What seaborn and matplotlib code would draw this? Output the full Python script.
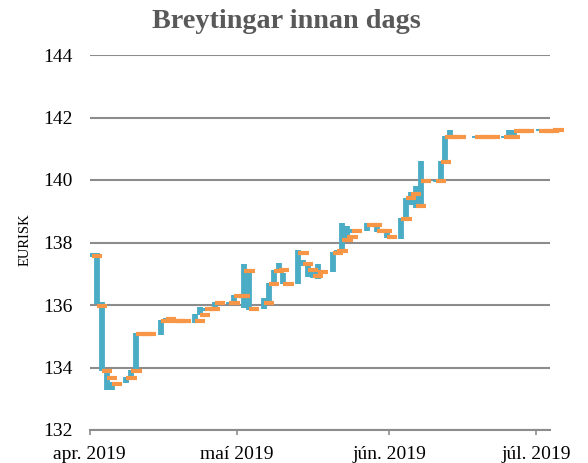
import matplotlib
matplotlib.use("Agg")
import matplotlib.pyplot as plt
import pandas as pd
import seaborn as sns

# ── Data (EUR/ISK intraday range and opening rate) ──
dates = [
    "2019-04-01", "2019-04-02", "2019-04-03", "2019-04-04", "2019-04-05",
    "2019-04-08", "2019-04-09", "2019-04-10", "2019-04-11", "2019-04-12",
    "2019-04-15", "2019-04-16", "2019-04-17", "2019-04-18", "2019-04-19",
    "2019-04-22", "2019-04-23", "2019-04-24", "2019-04-25", "2019-04-26",
    "2019-04-29", "2019-04-30", "2019-05-01", "2019-05-02", "2019-05-03",
    "2019-05-06", "2019-05-07", "2019-05-08", "2019-05-09", "2019-05-10",
    "2019-05-13", "2019-05-14", "2019-05-15", "2019-05-16", "2019-05-17",
    "2019-05-20", "2019-05-21", "2019-05-22", "2019-05-23", "2019-05-24",
    "2019-05-27", "2019-05-28", "2019-05-29", "2019-05-30", "2019-05-31",
    "2019-06-03", "2019-06-04", "2019-06-05", "2019-06-06", "2019-06-07",
    "2019-06-10", "2019-06-11", "2019-06-12", "2019-06-13", "2019-06-14",
    "2019-06-18", "2019-06-19", "2019-06-20", "2019-06-21", "2019-06-24",
    "2019-06-25", "2019-06-26", "2019-06-27", "2019-06-28", "2019-07-01",
    "2019-07-02", "2019-07-03", "2019-07-04",
]
lows = [
    137.55, 136.03, 133.90, 133.28, 133.28,
    133.50, 133.67, 133.89, 135.03, 135.03,
    135.04, 135.45, 135.45, 135.45, 135.45,
    135.42, 135.68, 135.82, 135.83, 135.89,
    136.02, 136.11, 136.26, 135.89, 135.84,
    135.86, 136.05, 136.69, 137.01, 136.66,
    136.66, 137.25, 136.90, 136.85, 136.83,
    137.07, 137.65, 137.71, 138.08, 138.30,
    138.38, 138.50, 138.35, 138.33, 138.13,
    138.10, 138.77, 139.20, 139.10, 139.15,
    139.93, 139.95, 140.57, 141.40, 141.35,
    141.35, 141.35, 141.35, 141.35, 141.35,
    141.44, 141.44, 141.54, 141.54, 141.56,
    141.54, 141.54, 141.58,
]
highs = [
    137.66, 137.66, 136.10, 133.87, 133.55,
    133.71, 133.92, 135.11, 135.10, 135.10,
    135.51, 135.58, 135.50, 135.50, 135.50,
    135.71, 135.95, 135.92, 135.90, 136.11,
    136.10, 136.32, 136.32, 137.31, 137.07,
    136.21, 136.69, 137.12, 137.35, 137.01,
    137.76, 137.44, 137.33, 137.20, 137.31,
    137.71, 137.76, 138.61, 138.53, 138.42,
    138.64, 138.60, 138.51, 138.40, 138.35,
    138.80, 139.41, 139.61, 139.81, 140.60,
    140.00, 140.60, 141.42, 141.60, 141.40,
    141.40, 141.40, 141.40, 141.40, 141.40,
    141.60, 141.60, 141.60, 141.60, 141.62,
    141.60, 141.60, 141.62,
]
opens = [
    137.56, 135.97, 133.88, 133.65, 133.46,
    133.65, 133.88, 135.06, 135.06, 135.06,
    135.48, 135.55, 135.48, 135.48, 135.48,
    135.48, 135.67, 135.86, 135.86, 136.05,
    136.05, 136.29, 136.29, 137.09, 135.86,
    136.05, 136.66, 137.09, 137.12, 136.66,
    137.65, 137.30, 137.12, 136.93, 137.07,
    137.65, 137.73, 138.08, 138.17, 138.36,
    138.56, 138.56, 138.36, 138.36, 138.17,
    138.74, 139.41, 139.54, 139.16, 139.96,
    139.96, 140.57, 141.37, 141.37, 141.37,
    141.37, 141.37, 141.37, 141.37, 141.37,
    141.37, 141.56, 141.57, 141.57, 141.56,
    141.56, 141.56, 141.60,
]
month_ticks = ["2019-04-01", "2019-05-01", "2019-06-01", "2019-07-01"]
month_labels = ["apr. 2019", "maí 2019", "jún. 2019", "júl. 2019"]

BLUE = "#4BACC6"
ORANGE = "#F79646"
GRID = "#8C8C8C"
TITLE_GRAY = "#595959"

sns.set_theme(style="white")
plt.rcParams["font.family"] = ["Liberation Serif", "DejaVu Serif"]

df = pd.DataFrame({"date": pd.to_datetime(dates), "low": lows,
                   "high": highs, "open": opens})
df["x"] = df["date"] + pd.Timedelta(hours=12)          # middle of the day slot
df["x_end"] = df["x"] + pd.Timedelta(days=2.1)

W, H = 588, 463
fig = plt.figure(figsize=(W / 100, H / 100), dpi=100)
ax = fig.add_axes([89.6 / W, 1 - 430 / H, (549.5 - 89.6) / W, 375 / H])

ax.vlines(df["x"], df["low"], df["high"], color=BLUE, linewidth=4.2,
          zorder=3)
ax.hlines(df["open"], df["x"], df["x_end"], color=ORANGE, linewidth=3.0,
          zorder=4, clip_on=False)

start = pd.Timestamp("2019-04-01")
ax.set_xlim(start, start + pd.Timedelta(days=93.7))
ax.set_ylim(132, 144)
ax.set_yticks(range(132, 145, 2))
ax.set_xticks(pd.to_datetime(month_ticks))
ax.set_xticklabels(month_labels)

ax.yaxis.grid(True, color=GRID, linewidth=1.5, zorder=0)
ax.set_axisbelow(True)
sns.despine(ax=ax, left=True)
ax.spines["bottom"].set_color(GRID)
ax.spines["bottom"].set_linewidth(1.5)
ax.tick_params(axis="x", direction="out", length=3.8, width=1.2, color=GRID,
               labelsize=14, pad=8, labelcolor="black", bottom=True)
ax.tick_params(axis="y", length=0, labelsize=14, pad=12.5, labelcolor="black")

fig.text(286 / W, 1 - 21 / H, "Breytingar innan dags", ha="center",
         va="center", fontsize=20.3, fontweight="bold", color=TITLE_GRAY)
fig.text(25 / W, 1 - 240 / H, "EURISK", rotation=90, ha="center",
         va="center", fontsize=10.5, color="black")

fig.savefig("out.png", dpi=100)
